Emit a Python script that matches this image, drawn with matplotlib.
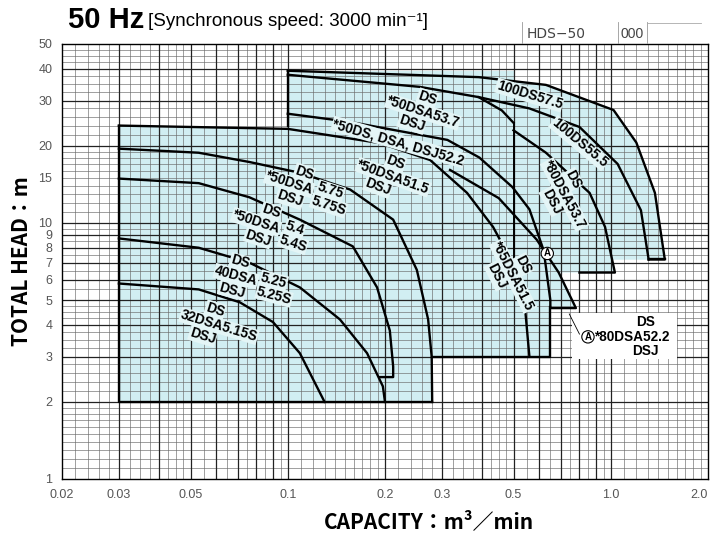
import numpy as np
import matplotlib.pyplot as plt

plt.rcParams['font.family'] = ['Liberation Sans Narrow', 'Liberation Sans', 'DejaVu Sans']

# capacity (m3/min) / total head (m)
q_32dsa515 = [0.030, 0.053, 0.071, 0.090, 0.109, 0.130]
h_32dsa515 = [5.8, 5.5, 4.9, 4.1, 3.1, 2.0]

q_40dsa525 = [0.030, 0.053, 0.076, 0.109, 0.145, 0.176, 0.197, 0.200]
h_40dsa525 = [8.7, 8.0, 7.0, 5.6, 4.2, 3.1, 2.3, 2.0]

q_50dsa54 = [0.030, 0.053, 0.076, 0.109, 0.159, 0.189, 0.207, 0.212, 0.212, 0.192]
h_50dsa54 = [14.9, 14.3, 12.6, 10.3, 8.1, 5.6, 3.8, 2.75, 2.5, 2.5]

q_50dsa575 = [0.030, 0.053, 0.076, 0.109, 0.156, 0.212, 0.251, 0.272, 0.279, 0.280]
h_50dsa575 = [19.5, 18.8, 17.3, 15.7, 13.5, 10.3, 6.55, 4.2, 3.0, 2.0]

q_50dsa515 = [0.030, 0.100, 0.193, 0.276, 0.359, 0.432, 0.490, 0.540, 0.560]
h_50dsa515 = [24.0, 23.3, 20.5, 17.6, 13.1, 9.65, 7.2, 5.0, 3.0]

q_50ds522 = [0.100, 0.156, 0.312, 0.392, 0.496, 0.560, 0.620, 0.650, 0.650]
h_50ds522 = [26.7, 24.8, 21.1, 18.0, 13.8, 11.3, 7.8, 5.0, 4.7]

q_80dsa522 = [0.318, 0.450, 0.590, 0.690, 0.780, 0.780, 0.650]
h_80dsa522 = [16.1, 12.5, 8.6, 6.4, 4.65, 4.65, 4.65]

q_80dsa537 = [0.500, 0.630, 0.860, 0.960, 1.030, 1.030, 0.800]
h_80dsa537 = [23.0, 18.8, 13.1, 9.65, 6.4, 6.4, 6.4]

q_50dsa537 = [0.100, 0.256, 0.390, 0.460, 0.500]
h_50dsa537 = [37.9, 34.0, 31.0, 27.5, 24.6]

q_100ds555 = [0.390, 0.560, 0.800, 1.050, 1.240, 1.310, 1.310]
h_100ds555 = [31.0, 28.0, 23.7, 17.0, 11.2, 7.2, 7.2]

q_100ds575 = [0.100, 0.390, 0.630, 1.020, 1.200, 1.370, 1.470, 1.470, 1.310]
h_100ds575 = [39.3, 37.1, 34.6, 27.6, 20.6, 13.1, 7.2, 7.2, 7.2]

curves = [
    (q_32dsa515, h_32dsa515, 2.0),
    (q_40dsa525, h_40dsa525, 2.0),
    (q_50dsa54, h_50dsa54, 2.0),
    (q_50dsa575, h_50dsa575, 2.0),
    (q_50dsa515, h_50dsa515, 3.0),
    (q_50ds522, h_50ds522, 3.0),
    (q_80dsa522, h_80dsa522, 4.65),
    (q_80dsa537, h_80dsa537, 6.4),
    (q_50dsa537, h_50dsa537, 23.0),
    (q_100ds555, h_100ds555, 7.2),
    (q_100ds575, h_100ds575, 7.2),
]

x_ticks = [0.02, 0.03, 0.05, 0.1, 0.2, 0.3, 0.5, 1.0, 2.0]
x_labels = ['0.02', '0.03', '0.05', '0.1', '0.2', '0.3', '0.5', '1.0', '2.0']
y_ticks = [1, 2, 3, 4, 5, 6, 7, 8, 9, 10, 15, 20, 30, 40, 50]

shade = '#d1eef2'

fig = plt.figure(figsize=(7.15, 5.38), dpi=100)
ax = fig.add_axes([0.0867, 0.1097, 0.9035, 0.8086])
ax.set_xscale('log')
ax.set_yscale('log')
ax.set_xlim(0.02, 2.0)
ax.set_ylim(1, 50)


def subdiv(lo, hi):
    out = []
    for dec in [0.01, 0.1, 1, 10]:
        for a, b, s in [(1, 2, 0.1), (2, 3, 0.2), (3, 5, 0.25), (5, 10, 0.5)]:
            for m in np.arange(a, b, s):
                v = m * dec
                if lo < v < hi:
                    out.append(v)
    return out


def majors(lo, hi):
    out = []
    for dec in [0.01, 0.1, 1, 10]:
        for m in range(1, 10):
            v = m * dec
            if lo < v < hi:
                out.append(v)
    return out


for v in subdiv(0.02, 2.0):
    ax.axvline(v, color='#6a6a6a', lw=0.45, zorder=1)
for v in subdiv(1, 50):
    ax.axhline(v, color='#6a6a6a', lw=0.45, zorder=1)
for v in majors(0.02, 2.0):
    ax.axvline(v, color='#222222', lw=0.9, zorder=1.1)
for v in majors(1, 50):
    ax.axhline(v, color='#222222', lw=0.9, zorder=1.1)

# shaded envelopes
for q, h, base in curves:
    px = [q[0]] + list(q) + [q[-1]]
    py = [base] + list(h) + [base]
    ax.fill(px, py, color=shade, lw=0, zorder=0.5)
ax.fill([0.1, 0.1, 0.5, 0.5], [24, 39.3, 39.3, 24], color=shade, lw=0, zorder=0.5)

for q, h, base in curves:
    ax.plot(q, h, color='black', lw=1.7, zorder=3, solid_joinstyle='round')
ax.plot([0.030, 0.030, 0.280], [24.0, 2.0, 2.0], color='black', lw=1.7, zorder=3)
ax.plot([0.100, 0.100], [24.0, 39.3], color='black', lw=1.7, zorder=3)
ax.plot([0.500, 0.500], [24.6, 6.4], color='black', lw=1.4, zorder=3)
ax.plot([0.280, 0.650, 0.650], [3.0, 3.0, 4.7], color='black', lw=1.7, zorder=3)
ax.plot([1.310, 1.470], [7.2, 7.2], color='black', lw=1.7, zorder=3)

FS = 9.8
LS = 10.5


def label(xy, rot, parts, fs=FS):
    t = np.deg2rad(rot)
    for txt, dx, dy in parts:
        ox = dx * np.cos(t) - dy * np.sin(t)
        oy = dx * np.sin(t) + dy * np.cos(t)
        ax.annotate(txt, xy, xytext=(ox, oy), textcoords='offset points',
                    rotation=rot, rotation_mode='anchor', ha='center', va='center',
                    fontsize=fs, fontweight='bold', zorder=4,
                    bbox=dict(boxstyle='square,pad=0.05', fc='#e4f5f6', ec='none'))


label((0.0612, 3.96), -17, [('DS', -6, LS), ('32DSA5.15S', 0, 0), ('DSJ', -9, -LS)])
label((0.0692, 6.2), -15, [('DS', 0, LS), ('40DSA', 0, 0), ('DSJ', 0, -LS),
                           ('5.25', 27, 4), ('5.25S', 30, -6.5)])
label((0.0798, 10.1), -18, [('DS', 8, LS), ('*50DSA', 0, 0), ('DSJ', 5, -LS),
                            ('5.4', 28, 4), ('5.4S', 30, -6.5)])
label((0.101, 14.3), -18, [('DS', 8, LS), ('*50DSA', 0, 0), ('DSJ', 4, -LS),
                           ('5.75', 30, 4), ('5.75S', 32, -6.5)])
label((0.212, 15.1), -20, [('DS', -2, LS), ('*50DSA51.5', 0, 0), ('DSJ', -8, -LS)])
label((0.22, 20.7), -16, [('*50DS, DSA, DSJ52.2', 0, 0)])
label((0.262, 27.2), -18, [('DS', 0, LS), ('*50DSA53.7', 0, 0), ('DSJ', -5, -LS)])
label((0.56, 31.6), -17, [('100DS57.5', 0, 0)])
label((0.80, 20.5), -40, [('100DS55.5', 0, 0)])
label((0.72, 12.9), -62, [('DS', -7, LS), ('*80DSA53.7', 0, 0), ('DSJ', 0, -LS)])
label((0.498, 6.2), -63, [('DS', -4, LS), ('*65DSA51.5', 0, 0), ('DSJ', -5.5, -LS)])

circ = dict(boxstyle='circle,pad=0.12', fc='white', ec='black', lw=0.8)
ax.text(0.636, 7.6, 'A', fontsize=7, fontweight='bold', ha='center', va='center', bbox=circ, zorder=5)

# side note for curve A
ax.fill([0.76, 0.76, 1.6, 1.6], [2.95, 4.45, 4.45, 2.95], color='white', lw=0, zorder=3.5)
ax.plot([0.744, 0.80], [4.41, 3.68], color='black', lw=0.6, zorder=4)
ax.text(0.85, 3.59, 'A', fontsize=7, fontweight='bold', ha='center', va='center', bbox=circ, zorder=5)
ax.text(1.28, 4.1, 'DS', fontsize=FS, fontweight='bold', ha='center', va='center', zorder=5)
ax.text(1.17, 3.59, '*80DSA52.2', fontsize=FS, fontweight='bold', ha='center', va='center', zorder=5)
ax.text(1.28, 3.17, 'DSJ', fontsize=FS, fontweight='bold', ha='center', va='center', zorder=5)

ax.set_xticks(x_ticks)
ax.set_xticklabels(x_labels)
ax.set_yticks(y_ticks)
ax.set_yticklabels([str(v) for v in y_ticks])
ax.minorticks_off()
ax.tick_params(length=0, labelsize=9, labelcolor='#555555', pad=7)
ax.get_xticklabels()[-1].set_ha('right')
for s in ax.spines.values():
    s.set_linewidth(1.0)

fig.text(0.095, 0.962, '50 Hz', fontsize=21, fontweight='bold', va='center', ha='left',
         family=['Liberation Sans', 'DejaVu Sans'])
fig.text(0.207, 0.960, '[Synchronous speed: 3000 min⁻¹]', fontsize=13.5, va='center', ha='left',
         family=['Liberation Sans', 'DejaVu Sans'])
fig.text(0.737, 0.937, 'HDS−50', fontsize=10, color='#444444', va='center', ha='left',
         family=['Liberation Sans Narrow', 'DejaVu Sans'])
fig.text(0.868, 0.937, '000', fontsize=10, color='#444444', va='center', ha='left')
for xf in [0.730, 0.864, 0.905]:
    fig.add_artist(plt.Line2D([xf, xf], [0.920, 0.960], color='#999999', lw=0.6))
fig.add_artist(plt.Line2D([0.905, 0.98], [0.958, 0.958], color='#aaaaaa', lw=0.6))

fig.text(0.03, 0.515, 'TOTAL HEAD：m', rotation=90, fontsize=15, fontweight='bold', va='center', ha='center',
         family=['Liberation Sans Narrow', 'Noto Sans CJK JP'])
fig.text(0.60, 0.03, 'CAPACITY：m³／min', fontsize=15, fontweight='bold', va='center', ha='center',
         family=['Liberation Sans Narrow', 'Noto Sans CJK JP'])

fig.savefig('out.png', dpi=100)
